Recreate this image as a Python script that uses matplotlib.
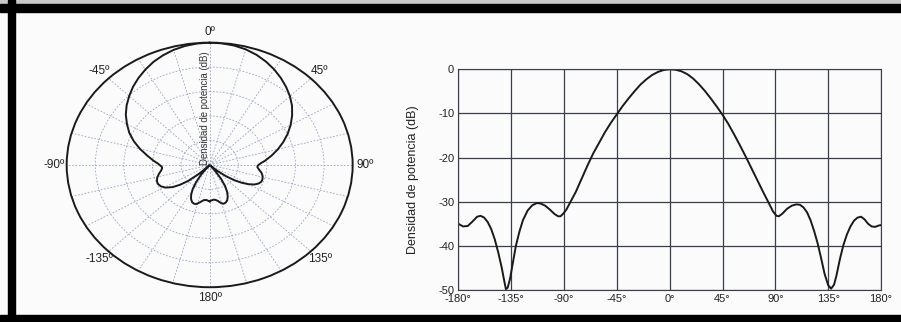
import numpy as np
import matplotlib.pyplot as plt
from matplotlib.patches import Rectangle

plt.rcParams['font.family'] = ['Liberation Sans', 'DejaVu Sans']
plt.rcParams['axes.unicode_minus'] = False

# radiation pattern (angle in degrees, level in dB)
angles = [-180, -176, -172, -168, -164, -161, -158, -155, -152, -149, -146, -143,
          -141, -139.5, -138, -136, -134, -131, -128, -125, -121, -117, -113, -110,
          -106, -102, -98, -95, -93, -91, -88, -85, -80, -75, -70, -65, -60, -55,
          -50, -45, -40, -35, -30, -25, -20, -15, -10, -5, 0,
          5, 10, 15, 20, 25, 30, 35, 40, 45, 50, 55, 60, 65, 70, 75, 80, 85, 88,
          91, 93, 96, 100, 104, 108, 111, 114, 117, 120, 123, 126, 129, 132, 135,
          137.5, 140, 142, 145, 148, 151, 154, 157, 160, 163, 166, 169, 172, 175,
          178, 180]
level_db = [-35.0, -35.6, -35.5, -34.5, -33.4, -33.2, -33.6, -34.6, -36.2, -38.5,
            -41.5, -45.0, -47.8, -49.8, -49.5, -47.5, -44.5, -40.0, -36.8, -34.2,
            -32.0, -30.8, -30.3, -30.4, -30.9, -31.8, -32.8, -33.3, -33.3, -32.8,
            -31.8, -30.3, -27.8, -24.8, -21.8, -19.0, -16.6, -14.2, -12.1, -10.2,
            -8.3, -6.6, -5.0, -3.5, -2.3, -1.3, -0.6, -0.15, 0.0,
            -0.1, -0.45, -1.1, -2.1, -3.4, -4.9, -6.6, -8.4, -10.3, -12.4, -14.8,
            -17.3, -19.9, -22.6, -25.3, -28.0, -30.6, -32.2, -33.2, -33.3, -32.7,
            -31.6, -30.9, -30.6, -30.7, -31.3, -32.4, -34.2, -36.6, -39.4, -42.8,
            -46.4, -48.9, -49.7, -48.8, -46.8, -43.0, -39.8, -37.4, -35.6, -34.3,
            -33.6, -33.4, -34.0, -35.0, -35.6, -35.7, -35.4, -35.3]

polar_labels = ['0º', '45º', '90º', '135º', '180º', '-135º', '-90º', '-45º']
x_ticks = [-180, -135, -90, -45, 0, 45, 90, 135, 180]
y_ticks = [0, -10, -20, -30, -40, -50]

ang = np.array(angles)
db = np.array(level_db)

fig = plt.figure(figsize=(9.01, 3.22), dpi=100, facecolor='#fbfbfc')

# scanned page frame
fig.patches.append(Rectangle((0, 1 - 4 / 322), 1, 4 / 322, transform=fig.transFigure,
                             color='#c8c8c8', zorder=0))
fig.patches.append(Rectangle((0, 1 - 12 / 322), 1, 8 / 322, transform=fig.transFigure,
                             color='black', zorder=0))
fig.patches.append(Rectangle((0, 0), 1, 7 / 322, transform=fig.transFigure,
                             color='black', zorder=0))
fig.patches.append(Rectangle((8 / 901, 0), 7 / 901, 1, transform=fig.transFigure,
                             color='black', zorder=0))

# polar pattern (left)
axp = fig.add_axes([0.074, 0.108, 0.3174, 0.7596], projection='polar')
axp.set_aspect('auto')
axp.patch.set_alpha(0)
axp.set_theta_zero_location('N')
axp.set_theta_direction(-1)
axp.plot(np.radians(ang), db + 50, color='#1a1a1a', lw=1.4)
axp.set_ylim(0, 50)
axp.set_yticks([10, 20, 30, 40])
axp.set_yticklabels([])
axp.set_xticks(np.radians(np.arange(0, 360, 15)))
axp.set_xticklabels([])
axp.grid(True, color='#9aa3c4', ls=(0, (2, 2)), lw=0.6)
axp.spines['polar'].set_color('#1a1a1a')
axp.spines['polar'].set_linewidth(1.4)
for i, lab in enumerate(polar_labels):
    axp.text(np.radians(45 * i), 54.5, lab, ha='center', va='center', fontsize=8.5,
             color='#222222')
axp.text(0.485, 0.5, 'Densidad de potencia (dB)', transform=axp.transAxes,
         rotation=90, ha='center', va='bottom', fontsize=6.9, color='#333333')

# cartesian pattern (right)
ax = fig.add_axes([0.5087, 0.0994, 0.4691, 0.6854])
ax.patch.set_alpha(0)
ax.plot(ang, db, color='#1a1a1a', lw=1.4)
ax.set_xlim(-180, 180)
ax.set_ylim(-50, 0)
ax.set_xticks(x_ticks)
ax.set_xticklabels([f'{t}°' for t in x_ticks])
ax.set_yticks(y_ticks)
ax.grid(True, color='#3a3d4a', lw=0.9)
ax.tick_params(length=0, labelsize=8, colors='#222222', pad=3)
ax.set_ylabel('Densidad de potencia (dB)', fontsize=9, color='#222222', labelpad=14)
for s in ax.spines.values():
    s.set_color('#3a3d4a')

fig.savefig('out.png', dpi=100, facecolor=fig.get_facecolor())
